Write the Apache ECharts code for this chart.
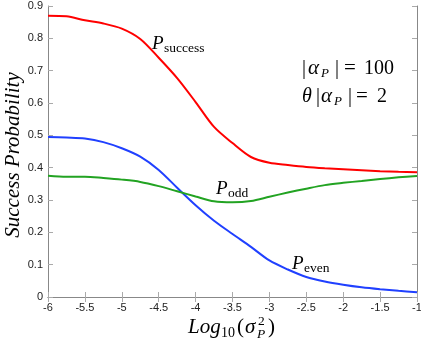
<!DOCTYPE html>
<html>
<head>
<meta charset="utf-8">
<script src="https://cdn.jsdelivr.net/npm/echarts@6/dist/echarts.min.js"></script>
<style>
  html, body { margin: 0; padding: 0; background: #fff; }
  #chart { width: 421px; height: 346px; }
</style>
</head>
<body>
<div id="chart"></div>
<script>
const logSigma = [-6, -5.75, -5.5, -5.25, -5, -4.75, -4.5, -4.25, -4, -3.75, -3.5,
  -3.25, -3, -2.75, -2.5, -2.25, -2, -1.75, -1.5, -1.25, -1]
const pSuccess = [0.870, 0.868, 0.856, 0.846, 0.830, 0.798, 0.740, 0.677, 0.603, 0.526, 0.476,
  0.433, 0.415, 0.408, 0.402, 0.398, 0.395, 0.392, 0.389, 0.387, 0.386]
const pEven = [0.495, 0.493, 0.490, 0.479, 0.460, 0.434, 0.393, 0.338, 0.284, 0.236, 0.195,
  0.155, 0.113, 0.085, 0.062, 0.048, 0.038, 0.030, 0.024, 0.019, 0.015]
const pOdd = [0.375, 0.372, 0.372, 0.368, 0.363, 0.356, 0.343, 0.327, 0.311, 0.296, 0.293,
  0.297, 0.310, 0.323, 0.335, 0.346, 0.353, 0.359, 0.365, 0.370, 0.374]

const serif = '"Liberation Serif", "DejaVu Serif", serif'
const sans = '"Liberation Sans", Arial, sans-serif'

const chart = echarts.init(document.getElementById('chart'))

function pairs(ys) {
  return logSigma.map((x, i) => [x, ys[i]])
}

// small helper: draw a formula from pieces, each placed by its baseline
function formula(left, base, pieces) {
  return {
    type: 'group',
    x: left,
    y: base,
    children: pieces.map((p) => ({
      type: 'text',
      x: p.dx,
      y: p.dy - p.size * 0.32,
      style: {
        text: p.t,
        fill: '#000',
        font: (p.it ? 'italic ' : '') + p.size + 'px ' + serif,
        verticalAlign: 'middle',
        align: 'left',
      },
    })),
  }
}

const axisLine = { show: true, lineStyle: { color: '#888', width: 1 } }
const tick = { show: true, inside: true, length: 5, lineStyle: { color: '#aaa' } }

const line = (data, color) => ({
  type: 'line',
  data: pairs(data),
  smooth: 0.3,
  symbol: 'none',
  lineStyle: { color: color, width: 2 },
})

chart.setOption({
  animation: false,
  grid: { left: 48, right: 4, top: 6, bottom: 49, containLabel: false, outerBoundsMode: 'none' },
  xAxis: [
    {
      type: 'value', min: -6, max: -1, interval: 0.5,
      axisLine: axisLine, axisTick: tick, splitLine: { show: false },
      axisLabel: { color: '#222', fontFamily: sans, fontSize: 11, margin: 5 },
    },
    {
      type: 'value', position: 'top', min: -6, max: -1, interval: 0.5,
      axisLine: axisLine, axisTick: tick, splitLine: { show: false },
      axisLabel: { show: false },
    },
  ],
  yAxis: [
    {
      type: 'value', min: 0, max: 0.9, interval: 0.1,
      axisLine: axisLine, axisTick: tick, splitLine: { show: false },
      axisLabel: { color: '#222', fontFamily: sans, fontSize: 11, margin: 5 },
    },
    {
      type: 'value', position: 'right', min: 0, max: 0.9, interval: 0.1,
      axisLine: axisLine, axisTick: tick, splitLine: { show: false },
      axisLabel: { show: false },
    },
  ],
  series: [
    line(pSuccess, '#ff0000'),
    line(pEven, '#2040ff'),
    line(pOdd, '#22a322'),
  ],
  graphic: [
    {
      type: 'text',
      x: 13,
      y: 155,
      rotation: Math.PI / 2,
      style: {
        text: 'Success Probability',
        fill: '#000',
        font: 'italic 21px ' + serif,
        align: 'center',
        verticalAlign: 'middle',
      },
    },
    formula(152, 50, [
      { t: 'P', dx: 0, dy: 0, size: 19, it: true },
      { t: 'success', dx: 12, dy: 3, size: 13.5 },
    ]),
    formula(216, 195, [
      { t: 'P', dx: 0, dy: 0, size: 19, it: true },
      { t: 'odd', dx: 12, dy: 3, size: 13.5 },
    ]),
    formula(292, 270, [
      { t: 'P', dx: 0, dy: 0, size: 19, it: true },
      { t: 'even', dx: 12, dy: 3, size: 13.5 },
    ]),
    formula(302, 75, [
      { t: '|', dx: 0, dy: 0, size: 20 },
      { t: 'α', dx: 6, dy: 0, size: 21, it: true },
      { t: 'P', dx: 19, dy: 3, size: 13, it: true },
      { t: '|', dx: 33, dy: 0, size: 20 },
      { t: '=', dx: 42, dy: 0, size: 21 },
      { t: '100', dx: 62, dy: 0, size: 20 },
    ]),
    formula(302, 103, [
      { t: 'θ', dx: 0, dy: 0, size: 20, it: true },
      { t: '|', dx: 14, dy: 0, size: 20 },
      { t: 'α', dx: 19, dy: 0, size: 21, it: true },
      { t: 'P', dx: 32, dy: 3, size: 13, it: true },
      { t: '|', dx: 46, dy: 0, size: 20 },
      { t: '=', dx: 54, dy: 0, size: 21 },
      { t: '2', dx: 75, dy: 0, size: 20 },
    ]),
    formula(188, 334, [
      { t: 'Log', dx: 0, dy: 0, size: 21, it: true },
      { t: '10', dx: 33, dy: 4, size: 14 },
      { t: '(', dx: 49, dy: 0, size: 21 },
      { t: 'σ', dx: 57, dy: 0, size: 21, it: true },
      { t: '2', dx: 70, dy: -8, size: 13.5 },
      { t: 'P', dx: 69, dy: 5, size: 13.5, it: true },
      { t: ')', dx: 80, dy: 0, size: 21 },
    ]),
  ],
})
</script>
</body>
</html>
